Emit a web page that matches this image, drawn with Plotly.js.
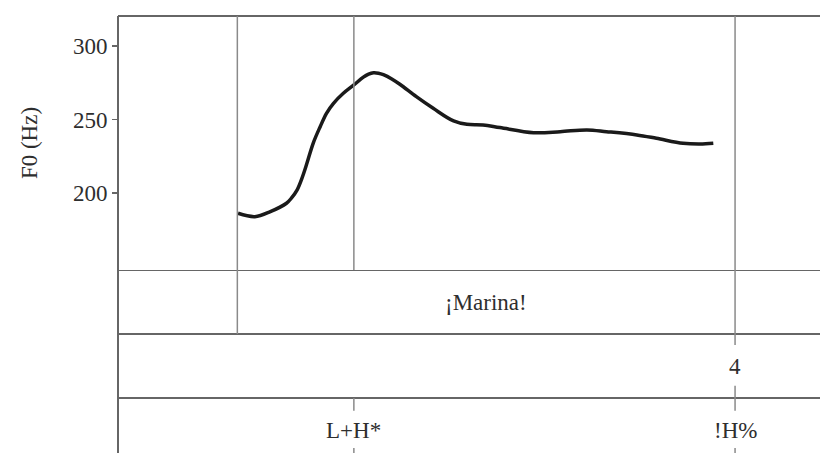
<!DOCTYPE html>
<html>
<head>
<meta charset="utf-8">
<script src="https://cdn.plot.ly/plotly-3.0.1.min.js"></script>
<style>html,body{margin:0;padding:0;background:#fff;}#chart{width:820px;height:453px;}</style>
</head>
<body>
<div id="chart"></div>
<script>
// Pitch contour (time in s, F0 in Hz)
const timeS = [0.171, 0.195, 0.217, 0.240, 0.247, 0.255, 0.262, 0.269, 0.278, 0.288, 0.297, 0.307, 0.321, 0.336, 0.349, 0.357, 0.364, 0.371, 0.378, 0.390, 0.402, 0.425, 0.449, 0.478, 0.497, 0.520, 0.544, 0.592, 0.630, 0.668, 0.696, 0.739, 0.767, 0.805, 0.829, 0.848];
const f0Hz  = [186.2, 183.9, 187.3, 193.0, 196.5, 202.0, 210.0, 220.0, 233.8, 245.1, 254.2, 261.0, 267.8, 273.5, 278.6, 280.9, 281.8, 281.5, 280.5, 277.6, 273.8, 265.5, 257.6, 249.0, 246.7, 246.3, 244.5, 241.0, 241.7, 242.9, 241.7, 239.5, 237.2, 233.8, 233.3, 233.8];

// Tiers
const wordBounds = [0.170, 0.879];
const wordLabels = ["¡Marina!"];
const breakTimes = [0.879];
const breakLabels = ["4"];
const toneTimes = [0.336, 0.879];
const toneLabels = ["L+H*", "!H%"];
const pitchMarkTimes = [0.170, 0.336, 0.879];

const yTicks = [200, 250, 300];
const yTickLabels = ["200", "250", "300"];

const FONT = "Liberation Serif";
const TXT = "#2e2e2e";
const VLINE = "#8a8a8a";
const BORDER = "#666666";

const tierSplit = 183 / 437;   // fraction of plot height used by the tiers
const tierBottom = -183 / 64;  // y2 value at the bottom edge

const shapes = [];
// outer frame
shapes.push({type: "line", xref: "paper", yref: "paper", x0: 0, x1: 1, y0: 1, y1: 1, line: {color: BORDER, width: 2}});
shapes.push({type: "line", xref: "paper", yref: "paper", x0: 0, x1: 0, y0: 0, y1: 1, line: {color: BORDER, width: 2}});
// tier separators
[0, -1, -2].forEach(v => shapes.push({type: "line", xref: "paper", yref: "y2", x0: 0, x1: 1, y0: v, y1: v, line: {color: BORDER, width: 2}}));
// vertical marks through the pitch panel
pitchMarkTimes.forEach(t => shapes.push({type: "line", xref: "x", yref: "paper", x0: t, x1: t, y0: tierSplit, y1: 1, line: {color: VLINE, width: 1.5}}));
// word tier boundaries
wordBounds.forEach(t => shapes.push({type: "line", xref: "x", yref: "y2", x0: t, x1: t, y0: 0, y1: -1, line: {color: VLINE, width: 1.5}}));
// break index tier marks
breakTimes.forEach(t => {
  shapes.push({type: "line", xref: "x", yref: "y2", x0: t, x1: t, y0: -1, y1: -1.17, line: {color: VLINE, width: 1.5}});
  shapes.push({type: "line", xref: "x", yref: "y2", x0: t, x1: t, y0: -1.81, y1: -2, line: {color: VLINE, width: 1.5}});
});
// tone tier marks
toneTimes.forEach(t => {
  shapes.push({type: "line", xref: "x", yref: "y2", x0: t, x1: t, y0: -2, y1: -2.2, line: {color: VLINE, width: 1.5}});
  shapes.push({type: "line", xref: "x", yref: "y2", x0: t, x1: t, y0: -2.78, y1: tierBottom, line: {color: VLINE, width: 1.5}});
});

const annotations = [];
wordLabels.forEach((lab, i) => annotations.push({xref: "x", yref: "y2", x: (wordBounds[i] + wordBounds[i + 1]) / 2, y: -0.5, text: lab, showarrow: false, font: {family: FONT, size: 23, color: TXT}}));
breakLabels.forEach((lab, i) => annotations.push({xref: "x", yref: "y2", x: breakTimes[i], y: -1.5, text: lab, showarrow: false, font: {family: FONT, size: 23, color: TXT}}));
toneLabels.forEach((lab, i) => annotations.push({xref: "x", yref: "y2", x: toneTimes[i], y: -2.5, text: lab, showarrow: false, font: {family: FONT, size: 23, color: TXT}}));

const trace = {
  x: timeS, y: f0Hz, type: "scatter", mode: "lines",
  line: {color: "#1a1a1a", width: 3.5, shape: "spline", smoothing: 1},
  xaxis: "x", yaxis: "y", hoverinfo: "skip"
};

const layout = {
  width: 820, height: 453,
  margin: {l: 118, r: 0, t: 16, b: 0, pad: 0},
  paper_bgcolor: "#ffffff", plot_bgcolor: "#ffffff",
  showlegend: false,
  font: {family: FONT, size: 23, color: TXT},
  xaxis: {range: [0, 1], visible: false, fixedrange: true},
  yaxis: {
    domain: [tierSplit, 1], range: [147.6, 320.4],
    tickvals: yTicks, ticktext: yTickLabels,
    ticks: "outside", ticklen: 5, tickwidth: 1.5, tickcolor: BORDER,
    tickfont: {family: FONT, size: 23, color: TXT},
    showgrid: false, zeroline: false, showline: false, automargin: false,
    title: {text: "F0 (Hz)", font: {family: FONT, size: 23, color: TXT}, standoff: 28}
  },
  yaxis2: {domain: [0, tierSplit], range: [tierBottom, 0], visible: false, anchor: "x", fixedrange: true},
  shapes: shapes,
  annotations: annotations
};

Plotly.newPlot("chart", [trace], layout, {displayModeBar: false, staticPlot: true});
</script>
</body>
</html>
